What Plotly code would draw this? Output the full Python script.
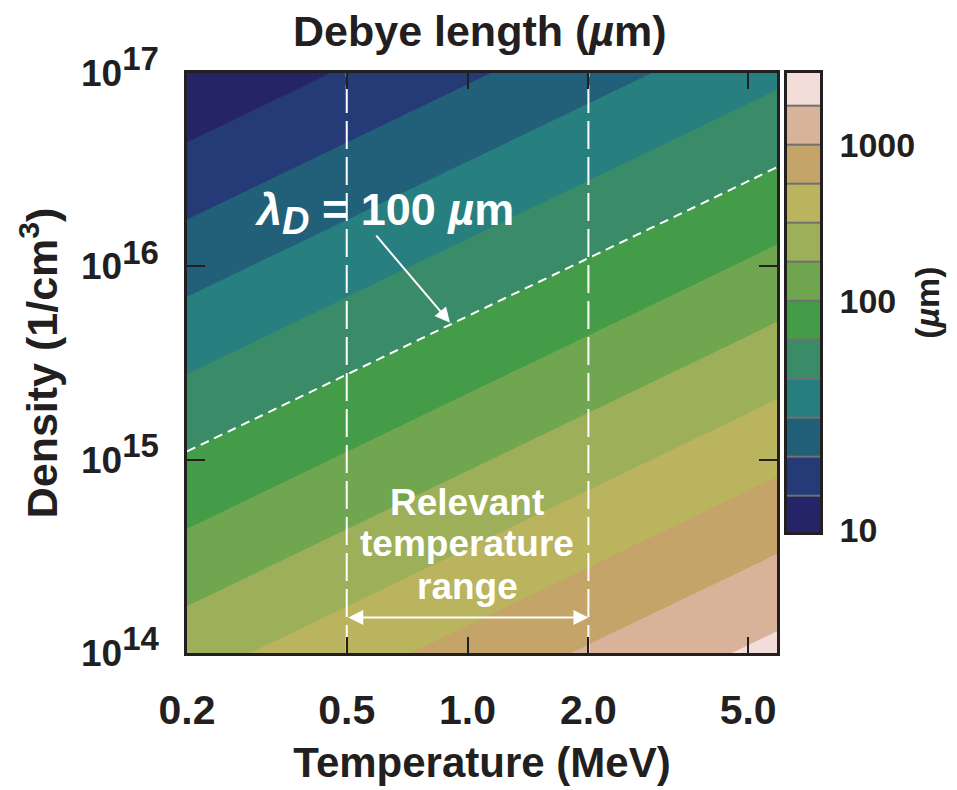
import numpy as np
import plotly.graph_objects as go

# ---------------- data ----------------
temperature_mev = [0.2, 0.5, 1.0, 2.0, 5.0, 5.9]          # x grid (MeV)
density_cm3 = [1e14, 1e15, 1e16, 1e17]                     # y grid (1/cm^3)
# Debye length in micrometres; rows follow density_cm3, columns temperature_mev
debye_um = [
    [332.0, 525.0, 743.0, 1051.0, 1661.0, 1805.0],
    [105.0, 166.0, 235.0, 332.0, 525.0, 571.0],
    [33.2, 52.5, 74.3, 105.0, 166.0, 180.5],
    [10.5, 16.6, 23.5, 33.2, 52.5, 57.1],
]
# contour band edges as log10(µm) (10 µm ... 2512 µm, 5 bands per decade) and colours, low -> high
band_edge_log10_um = [1.0, 1.2, 1.4, 1.6, 1.8, 2.0, 2.2, 2.4, 2.6, 2.8, 3.0, 3.2, 3.4]
band_colors = ["#262469", "#253b78", "#216078", "#27807f", "#3a8c69", "#449c49",
               "#70a650", "#9db059", "#bab45f", "#c4a468", "#d8b39a", "#f3ddd8"]
highlight_level_um = 100.0
relevant_range_mev = [0.5, 2.0]
x_tickvals = [0.2, 0.5, 1.0, 2.0, 5.0]
x_ticktext = ["0.2", "0.5", "1.0", "2.0", "5.0"]
y_tickvals = [1e14, 1e15, 1e16, 1e17]
y_exponents = ["14", "15", "16", "17"]
x_range_mev = [0.2, 5.9]
y_range_cm3 = [1e14, 1e17]
cbar_range_um = [10.3, 2330.0]
cbar_tick_pos_um = [10.6, 158.0, 1000.0]
cbar_ticktext = ["10", "100", "1000"]

# ---------------- layout geometry ----------------
W, H = 957, 790
L, R, T, B = 187, 137, 73, 127
PW, PH = W - L - R, H - T - B
MAIN_RIGHT = 777
CB_LEFT, CB_BOTTOM = 787, 540


def pxx(px):
    return (px - L) / PW


def pxy(py):
    return (H - B - py) / PH


lx = np.log10(temperature_mev)
ly = np.log10(density_cm3)
lz = np.log10(np.array(debye_um))
xr = np.log10(x_range_mev)
yr = np.log10(y_range_cm3)
x_dom = [0, (MAIN_RIGHT - L) / PW]


def data_x(px):
    return xr[0] + (px - L) / (MAIN_RIGHT - L) * (xr[1] - xr[0])


def data_y(py):
    return yr[0] + (H - B - py) / PH * (yr[1] - yr[0])


edges_log = np.array(band_edge_log10_um)
n_b = len(band_colors)
step = round(edges_log[1] - edges_log[0], 6)

# contour fill colours: band k is sampled at k/(n_b-1)
cscale_contour = []
for k, c in enumerate(band_colors):
    lo = max(0.0, (k - 0.5) / (n_b - 1))
    hi = min(1.0, (k + 0.5) / (n_b - 1))
    cscale_contour += [[lo, c], [hi, c]]

# colour-bar heatmap: band k covers [k/n_b, (k+1)/n_b]
cscale_bar = []
for k, c in enumerate(band_colors):
    cscale_bar += [[k / n_b, c], [(k + 1) / n_b, c]]

INK = "#231f20"
FONT = "Liberation Sans, Arial, Helvetica, sans-serif"

fig = go.Figure()

fig.add_trace(go.Contour(
    x=lx, y=ly, z=lz,
    colorscale=cscale_contour,
    contours=dict(start=edges_log[1], end=edges_log[-2] + step * 0.01, size=step,
                  coloring="fill", showlines=False),
    line=dict(width=0),
    showscale=False, hoverinfo="skip",
))

lvl = np.log10(highlight_level_um)
fig.add_trace(go.Contour(
    x=lx, y=ly, z=lz,
    contours=dict(start=lvl, end=lvl, size=1, coloring="none"),
    line=dict(color="white", width=2, dash="9px,6px"),
    showscale=False, hoverinfo="skip",
))

for tv in relevant_range_mev:
    fig.add_trace(go.Scatter(
        x=[np.log10(tv)] * 2, y=list(yr), mode="lines",
        line=dict(color="white", width=2, dash="28px,8px"),
        showlegend=False, hoverinfo="skip",
    ))

# colour bar as a heatmap on its own axes
mids = (edges_log[:-1] + edges_log[1:]) / 2
fig.add_trace(go.Heatmap(
    x=[0.5], y=mids, z=[[m] for m in mids],
    zmin=edges_log[0], zmax=edges_log[-1], colorscale=cscale_bar,
    ygap=2, showscale=False, hoverinfo="skip",
    xaxis="x2", yaxis="y2",
))

ysup = ["10<sup><span style='font-size:33px'>%s</span></sup>" % e for e in y_exponents]

axis_common = dict(showline=True, linewidth=2.5, linecolor=INK, mirror="ticks",
                   ticks="inside", tickwidth=2, tickcolor=INK, showgrid=False, zeroline=False)

fig.update_layout(
    width=W, height=H,
    margin=dict(l=L, r=R, t=T, b=B, pad=0),
    paper_bgcolor="white", plot_bgcolor="#707070",
    font=dict(family=FONT, color=INK, size=34, weight="bold"),
    showlegend=False,
    xaxis=dict(domain=x_dom, range=list(xr), tickvals=np.log10(x_tickvals), ticktext=x_ticktext,
               ticklen=16, tickfont=dict(size=41), ticklabelstandoff=19,
               title=dict(text="Temperature (MeV)", font=dict(size=42), standoff=16), **axis_common),
    yaxis=dict(range=list(yr), tickvals=np.log10(y_tickvals), ticktext=ysup,
               ticklen=18, tickfont=dict(size=37), ticklabelstandoff=18,
               title=dict(text="Density (1/cm<sup>3</sup>)", font=dict(size=43), standoff=10),
               **axis_common),
    xaxis2=dict(domain=[pxx(CB_LEFT), 1.0], range=[0, 1], anchor="y2", showticklabels=False,
                ticks="", showline=True, linewidth=2.5, linecolor=INK, mirror=True,
                showgrid=False, zeroline=False, fixedrange=True),
    yaxis2=dict(domain=[pxy(CB_BOTTOM), 1.0], range=list(np.log10(cbar_range_um)), anchor="x2",
                side="right", tickvals=np.log10(cbar_tick_pos_um), ticktext=cbar_ticktext,
                ticks="", tickfont=dict(size=34), ticklabelstandoff=10,
                showline=True, linewidth=2.5, linecolor=INK, mirror=True,
                showgrid=False, zeroline=False,
                title=dict(text="(<i>µ</i>m)", font=dict(size=34), standoff=2)),
)

ann = []
ann.append(dict(text="Debye length (<i>µ</i>m)", x=pxx(480), y=pxy(30), xref="paper", yref="paper",
                showarrow=False, font=dict(size=43), xanchor="center", yanchor="middle"))
ann.append(dict(text="<i>λ<sub><span style='font-size:38px'>D</span></sub></i> = 100 <i>µ</i>m",
                x=pxx(384), y=pxy(215),
                xref="paper", yref="paper", showarrow=False, font=dict(size=45, color="white"),
                xanchor="center", yanchor="middle"))
ann.append(dict(text="", x=data_x(450), y=data_y(327), ax=data_x(375), ay=data_y(237),
                xref="x", yref="y", axref="x", ayref="y", showarrow=True,
                arrowhead=2, arrowsize=1.5, arrowwidth=2, arrowcolor="white", standoff=0))
for txt, yy in [("Relevant", 510), ("temperature", 552), ("range", 595)]:
    ann.append(dict(text=txt, x=pxx(467), y=pxy(yy), xref="paper", yref="paper", showarrow=False,
                    font=dict(size=37, color="white"), xanchor="center", yanchor="middle"))
ya = data_y(627)
ann.append(dict(text="", x=np.log10(relevant_range_mev[1]), y=ya,
                ax=np.log10(relevant_range_mev[0]), ay=ya,
                xref="x", yref="y", axref="x", ayref="y", showarrow=True, arrowside="end+start",
                arrowhead=2, arrowsize=1.5, arrowwidth=2, arrowcolor="white",
                standoff=0, startstandoff=0))
fig.update_layout(annotations=ann)

fig.write_html("out.html")
